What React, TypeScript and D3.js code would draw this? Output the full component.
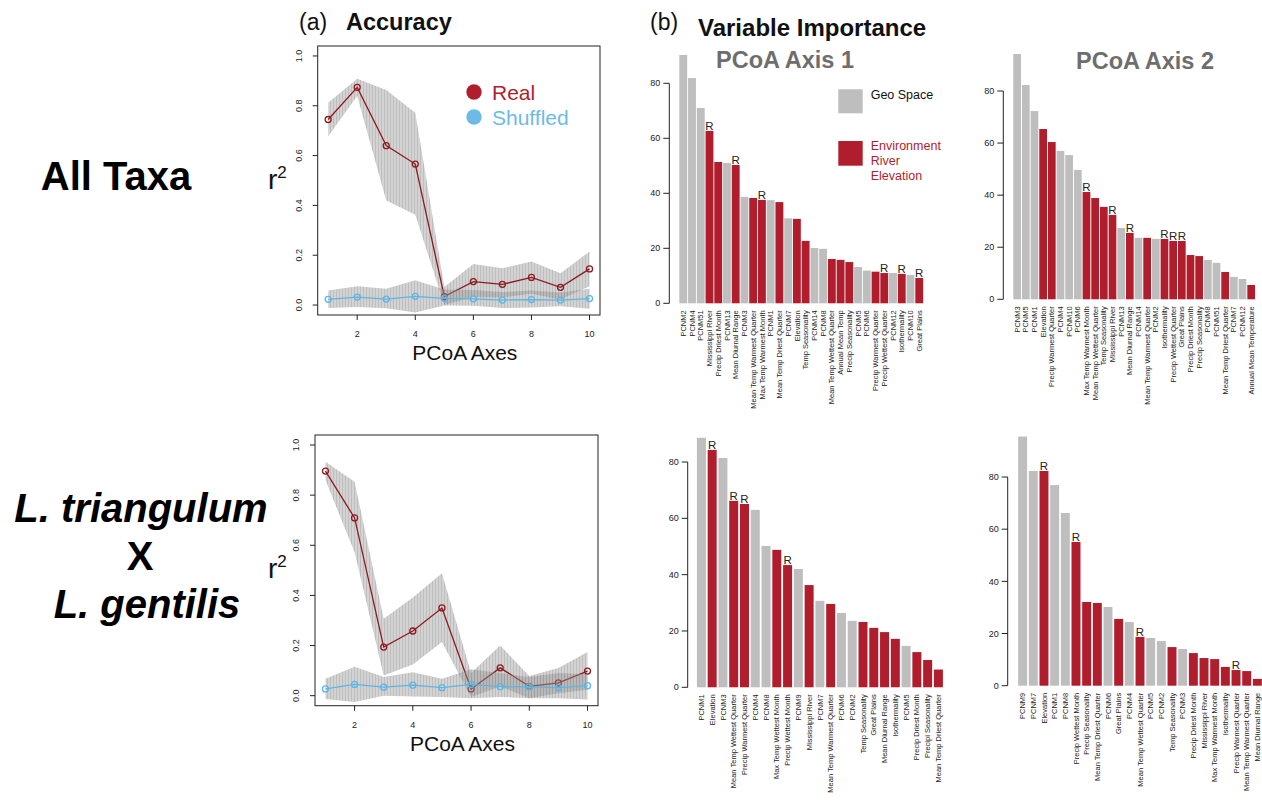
import React from 'react';
import * as d3 from 'd3';

const FONT = '"Liberation Sans", Arial, Helvetica, sans-serif';
const RED = '#b01e2d';
const GRAY = '#bebebe';
const LINE_RED = '#8e1a1f';
const BLUE = '#5bb6e6';

// ---------- Accuracy data ----------
const pcoaAxes = [1, 2, 3, 4, 5, 6, 7, 8, 9, 10];
const accTicksX = [2, 4, 6, 8, 10];
const accTicksY = [0, 0.2, 0.4, 0.6, 0.8, 1.0];

const allRealMean = [0.745, 0.874, 0.640, 0.566, 0.034, 0.094, 0.083, 0.111, 0.071, 0.145];
const allRealUpper = [0.812, 0.909, 0.863, 0.772, 0.072, 0.165, 0.148, 0.175, 0.128, 0.215];
const allRealLower = [0.678, 0.839, 0.420, 0.362, 0.000, 0.032, 0.030, 0.045, 0.022, 0.075];
const allShufMean = [0.023, 0.032, 0.024, 0.035, 0.027, 0.025, 0.020, 0.022, 0.020, 0.026];
const allShufUpper = [0.058, 0.075, 0.065, 0.100, 0.062, 0.060, 0.052, 0.058, 0.050, 0.065];
const allShufLower = [-0.012, -0.008, -0.013, -0.030, -0.002, -0.003, -0.012, -0.010, -0.005, -0.015];

const hybRealMean = [0.896, 0.709, 0.194, 0.258, 0.350, 0.027, 0.111, 0.037, 0.051, 0.098];
const hybRealUpper = [0.933, 0.853, 0.307, 0.392, 0.488, 0.090, 0.200, 0.078, 0.110, 0.174];
const hybRealLower = [0.860, 0.572, 0.080, 0.124, 0.214, -0.005, 0.037, -0.010, 0.010, 0.024];
const hybShufMean = [0.027, 0.045, 0.034, 0.042, 0.032, 0.045, 0.036, 0.035, 0.032, 0.040];
const hybShufUpper = [0.068, 0.115, 0.075, 0.093, 0.068, 0.105, 0.090, 0.075, 0.090, 0.085];
const hybShufLower = [-0.013, -0.025, 0.000, -0.003, -0.005, -0.010, -0.005, -0.010, -0.010, -0.015];

// ---------- Variable importance data ----------
const barTicks = [0, 20, 40, 60, 80];

const allAx1Labels = ['PCNM2', 'PCNM4', 'PCNM51', 'Mississippi River', 'Precip Driest Month', 'PCNM13', 'Mean Diurnal Range', 'PCNM3', 'Mean Temp Warmest Quarter', 'Max Temp Warmest Month', 'PCNM1', 'Mean Temp Driest Quarter', 'PCNM7', 'Elevation', 'Temp Seasonality', 'PCNM14', 'PCNM8', 'Mean Temp Wettest Quarter', 'Annual Mean Temp', 'Precip Seasonality', 'PCNM5', 'PCNM6', 'Precip Warmest Quarter', 'Precip Wettest Quarter', 'PCNM12', 'Isothermality', 'PCNM10', 'Great Plains'];
const allAx1Values = [90.3, 81.9, 71.0, 62.7, 51.4, 51.0, 50.3, 38.7, 38.3, 37.6, 37.5, 36.8, 30.9, 30.7, 22.7, 20.1, 19.8, 16.1, 15.8, 15.0, 13.2, 11.9, 11.5, 11.0, 11.0, 10.7, 10.3, 9.2];
const allAx1Env = [0, 0, 0, 1, 1, 0, 1, 0, 1, 1, 0, 1, 0, 1, 1, 0, 0, 1, 1, 1, 0, 0, 1, 1, 0, 1, 0, 1];
const allAx1R = [0, 0, 0, 1, 0, 0, 1, 0, 0, 1, 0, 0, 0, 0, 0, 0, 0, 0, 0, 0, 0, 0, 0, 1, 0, 1, 0, 1];

const allAx2Labels = ['PCNM3', 'PCNM5', 'PCNM1', 'Elevation', 'Precip Warmest Quarter', 'PCNM4', 'PCNM10', 'PCNM6', 'Max Temp Warmest Month', 'Mean Temp Wettest Quarter', 'Temp Seasonality', 'Mississippi River', 'PCNM13', 'Mean Diurnal Range', 'PCNM14', 'Mean Temp Warmest Quarter', 'PCNM2', 'Isothermality', 'Precip Wettest Quarter', 'Great Plains', 'Precip Driest Month', 'Precip Seasonality', 'PCNM8', 'PCNM51', 'Mean Temp Driest Quarter', 'PCNM7', 'PCNM12', 'Annual Mean Temperature'];
const allAx2Values = [94.2, 82.3, 72.3, 65.4, 60.4, 57.0, 55.4, 49.7, 41.2, 38.9, 35.5, 32.4, 27.4, 25.5, 23.6, 23.6, 23.2, 23.2, 22.4, 22.4, 17.0, 16.6, 15.1, 14.0, 10.5, 8.6, 7.8, 5.5];
const allAx2Env = [0, 0, 0, 1, 1, 0, 0, 0, 1, 1, 1, 1, 0, 1, 0, 1, 0, 1, 1, 1, 1, 1, 0, 0, 1, 0, 0, 1];
const allAx2R = [0, 0, 0, 0, 0, 0, 0, 0, 1, 0, 0, 1, 0, 1, 0, 0, 0, 1, 1, 1, 0, 0, 0, 0, 0, 0, 0, 0];

const hybAx1Labels = ['PCNM1', 'Elevation', 'PCNM3', 'Mean Temp Wettest Quarter', 'Precip Warmest Quarter', 'PCNM4', 'PCNM8', 'Max Temp Wettest Month', 'Precip Wettest Month', 'PCNM9', 'Mississippi River', 'PCNM7', 'Mean Temp Warmest Quarter', 'PCNM6', 'PCNM2', 'Temp Seasonality', 'Great Plains', 'Mean Diurnal Range', 'Isothermality', 'PCNM5', 'Precip Driest Month', 'Precipi Seasonality', 'Mean Temp Driest Quarter'];
const hybAx1Values = [88.6, 84.3, 81.4, 66.2, 65.1, 63.0, 50.2, 48.8, 43.4, 42.0, 36.3, 30.7, 29.6, 26.4, 23.6, 23.2, 21.1, 19.6, 17.2, 14.7, 12.5, 9.7, 6.3];
const hybAx1Env = [0, 1, 0, 1, 1, 0, 0, 1, 1, 0, 1, 0, 1, 0, 0, 1, 1, 1, 1, 0, 1, 1, 1];
const hybAx1R = [0, 1, 0, 1, 1, 0, 0, 0, 1, 0, 0, 0, 0, 0, 0, 0, 0, 0, 0, 0, 0, 0, 0];

const hybAx2Labels = ['PCNM9', 'PCNM7', 'Elevation', 'PCNM1', 'PCNM8', 'Precip Wettest Month', 'Precip Seasonality', 'Mean Temp Driest Quarter', 'PCNM6', 'Great Plains', 'PCNM4', 'Mean Temp Wettest Quarter', 'PCNM5', 'PCNM2', 'Temp Seasonality', 'PCNM3', 'Precip Driest Month', 'Mississippi River', 'Max Temp Warmest Month', 'Isothermality', 'Precip Warmest Quarter', 'Mean Temp Warmest Quarter', 'Mean Diurnal Range'];
const hybAx2Values = [95.5, 82.3, 82.3, 76.9, 66.2, 55.1, 32.1, 31.7, 30.2, 25.6, 24.4, 18.7, 18.3, 17.1, 14.8, 14.1, 12.5, 10.6, 10.2, 7.2, 6.0, 5.6, 2.6];
const hybAx2Env = [0, 0, 1, 0, 0, 1, 1, 1, 0, 1, 0, 1, 0, 0, 1, 0, 1, 1, 1, 1, 1, 1, 1];
const hybAx2R = [0, 0, 1, 0, 0, 1, 0, 0, 0, 0, 0, 1, 0, 0, 0, 0, 0, 0, 0, 0, 1, 0, 0];

type AccProps = {
  x0: number; x1: number; y0: number; y1: number;
  realMean: number[]; realUp: number[]; realLo: number[];
  shufMean: number[]; shufUp: number[]; shufLo: number[];
  legend?: boolean;
};

function AccuracyPanel(p: AccProps) {
  const x = d3.scaleLinear().domain([0.64, 10.36]).range([p.x0, p.x1]);
  const y = d3.scaleLinear().domain([-0.04, 1.04]).range([p.y1, p.y0]);
  const area = d3.area<number>()
    .x((_, i) => x(pcoaAxes[i]));
  const band = (up: number[], lo: number[]) =>
    area.y0((_, i) => y(lo[i])).y1((_, i) => y(up[i]))(up) || '';
  const line = (vals: number[]) =>
    d3.line<number>().x((_, i) => x(pcoaAxes[i])).y((v) => y(v))(vals) || '';
  const cx = (p.x0 + p.x1) / 2;
  return (
    <g>
      <path d={band(p.realUp, p.realLo)} fill="url(#hatch)" />
      <path d={line(p.realMean)} fill="none" stroke={LINE_RED} strokeWidth={1.3} />
      {p.realMean.map((v, i) => (
        <circle key={'r' + i} cx={x(pcoaAxes[i])} cy={y(v)} r={3} fill="none" stroke={LINE_RED} strokeWidth={1.3} />
      ))}
      <path d={band(p.shufUp, p.shufLo)} fill="url(#hatch)" />
      <path d={line(p.shufMean)} fill="none" stroke={BLUE} strokeWidth={1.3} />
      {p.shufMean.map((v, i) => (
        <circle key={'s' + i} cx={x(pcoaAxes[i])} cy={y(v)} r={3} fill="none" stroke={BLUE} strokeWidth={1.3} />
      ))}
      <rect x={p.x0} y={p.y0} width={p.x1 - p.x0} height={p.y1 - p.y0} fill="none" stroke="#222" strokeWidth={1} />
      {accTicksY.map((t) => (
        <g key={'yt' + t}>
          <line x1={p.x0 - 5} x2={p.x0} y1={y(t)} y2={y(t)} stroke="#222" />
          <text transform={`translate(${p.x0 - 16},${y(t)}) rotate(-90)`} textAnchor="middle" fontSize={9} fill="#222" fontFamily={FONT}>{t.toFixed(1)}</text>
        </g>
      ))}
      {accTicksX.map((t) => (
        <g key={'xt' + t}>
          <line x1={x(t)} x2={x(t)} y1={p.y1} y2={p.y1 + 5} stroke="#222" />
          <text x={x(t)} y={p.y1 + 22} textAnchor="middle" fontSize={9} fill="#222" fontFamily={FONT}>{t}</text>
        </g>
      ))}
      <text x={cx + 6} y={p.y1 + 45} textAnchor="middle" fontSize={21} fill="#111" fontFamily={FONT}>PCoA Axes</text>
      <text x={268} y={(p.y0 + p.y1) / 2 + 8} fontSize={28} fill="#111" fontFamily={FONT}>r<tspan fontSize={17} dy={-11}>2</tspan></text>
      {p.legend && (
        <g fontFamily={FONT} fontSize={21}>
          <circle cx={474} cy={92} r={7.7} fill={RED} />
          <text x={492} y={100} fill={RED}>Real</text>
          <circle cx={474} cy={117} r={7.7} fill="#6cbbe7" />
          <text x={492} y={125} fill="#6cbbe7">Shuffled</text>
        </g>
      )}
    </g>
  );
}

type BarProps = {
  labels: string[]; values: number[]; env: number[]; rflag: number[];
  zeroY: number; y80: number; left: number; right: number; pad: number; axisX: number;
};

function BarPanel(p: BarProps) {
  const x = d3.scaleBand<string>()
    .domain(p.labels.map((l, i) => i + ':' + l))
    .range([p.left, p.right])
    .paddingInner(p.pad)
    .paddingOuter(p.pad / 2);
  const y = d3.scaleLinear().domain([0, 80]).range([p.zeroY, p.y80]);
  const keys = x.domain();
  return (
    <g fontFamily={FONT}>
      {p.values.map((v, i) => (
        <rect key={'b' + i} x={x(keys[i])} y={y(v)} width={x.bandwidth()} height={y(0) - y(v)} fill={p.env[i] ? RED : GRAY} />
      ))}
      {p.values.map((v, i) => p.rflag[i] ? (
        <text key={'R' + i} x={(x(keys[i]) || 0) + x.bandwidth() / 2} y={y(v) - 1} textAnchor="middle" fontSize={11.5} fill="#222">R</text>
      ) : null)}
      <line x1={p.axisX} x2={p.axisX} y1={y(0)} y2={y(80)} stroke="#222" />
      {barTicks.map((t) => (
        <g key={'t' + t}>
          <line x1={p.axisX - 6} x2={p.axisX} y1={y(t)} y2={y(t)} stroke="#222" />
          <text x={p.axisX - 9} y={y(t)} dy="0.35em" textAnchor="end" fontSize={9} fill="#222">{t}</text>
        </g>
      ))}
      {p.labels.map((l, i) => (
        <text key={'l' + i} transform={`translate(${(x(keys[i]) || 0) + x.bandwidth() / 2},${p.zeroY + 7}) rotate(-90)`} textAnchor="end" dy="0.35em" fontSize={7.5} fill="#1a1a1a">{l}</text>
      ))}
    </g>
  );
}

export default function App() {
  return (
    <svg width={1262} height={804} style={{ position: 'absolute', left: 0, top: 0, background: '#fff' }}>
      <defs>
        <pattern id="hatch" width={3} height={10} patternUnits="userSpaceOnUse">
          <rect width={3} height={10} fill="rgba(150,150,150,0.42)" />
          <rect width={1} height={10} fill="rgba(110,110,110,0.2)" />
        </pattern>
      </defs>
      <rect width={1262} height={804} fill="#fff" />

      {/* Row labels */}
      <text x={116} y={190} textAnchor="middle" fontSize={40} fontWeight="bold" fontFamily={FONT} fill="#000">All Taxa</text>
      <g fontFamily={FONT} fontWeight="bold" fill="#000" textAnchor="middle">
        <text x={141} y={522} fontSize={40} fontStyle="italic">L. triangulum</text>
        <text x={140} y={570} fontSize={40}>X</text>
        <text x={147} y={618} fontSize={40} fontStyle="italic">L. gentilis</text>
      </g>

      {/* Titles */}
      <text x={299} y={30} fontSize={23} fontFamily={FONT} fill="#111">(a)</text>
      <text x={346} y={30} fontSize={23.5} fontWeight="bold" fontFamily={FONT} fill="#111">Accuracy</text>
      <text x={650} y={30} fontSize={23} fontFamily={FONT} fill="#111">(b)</text>
      <text x={698} y={36} fontSize={24} fontWeight="bold" fontFamily={FONT} fill="#111">Variable Importance</text>
      <text x={785} y={68} textAnchor="middle" fontSize={23.5} fontWeight="bold" fontFamily={FONT} fill="#6e6e6e">PCoA Axis 1</text>
      <text x={1145} y={69} textAnchor="middle" fontSize={23.5} fontWeight="bold" fontFamily={FONT} fill="#6e6e6e">PCoA Axis 2</text>

      <AccuracyPanel x0={317.7} x1={600} y0={46} y1={315}
        realMean={allRealMean} realUp={allRealUpper} realLo={allRealLower}
        shufMean={allShufMean} shufUp={allShufUpper} shufLo={allShufLower} legend />
      <AccuracyPanel x0={315} x1={598} y0={435} y1={705.7}
        realMean={hybRealMean} realUp={hybRealUpper} realLo={hybRealLower}
        shufMean={hybShufMean} shufUp={hybShufUpper} shufLo={hybShufLower} />

      <BarPanel labels={allAx1Labels} values={allAx1Values} env={allAx1Env} rflag={allAx1R}
        zeroY={303.3} y80={83.3} left={678.9} right={923.6} pad={0.1} axisX={669.3} />
      <BarPanel labels={allAx2Labels} values={allAx2Values} env={allAx2Env} rflag={allAx2R}
        zeroY={299.3} y80={91} left={1012.8} right={1255.5} pad={0.11} axisX={1003.3} />
      <BarPanel labels={hybAx1Labels} values={hybAx1Values} env={hybAx1Env} rflag={hybAx1R}
        zeroY={687.3} y80={462} left={696} right={943.8} pad={0.165} axisX={687.7} />
      <BarPanel labels={hybAx2Labels} values={hybAx2Values} env={hybAx2Env} rflag={hybAx2R}
        zeroY={685.7} y80={477} left={1017.3} right={1262.7} pad={0.16} axisX={1007.7} />

      {/* Bar legend */}
      <g fontFamily={FONT} fontSize={12.5}>
        <rect x={838.3} y={89.3} width={24.4} height={24} fill={GRAY} />
        <text x={870.7} y={98.5} fill="#111">Geo Space</text>
        <rect x={838.3} y={141} width={24.4} height={24.7} fill={RED} />
        <text x={870.7} y={149.5} fill={RED}>Environment</text>
        <text x={870.7} y={164.5} fill={RED}>River</text>
        <text x={870.7} y={179.5} fill={RED}>Elevation</text>
      </g>
    </svg>
  );
}
